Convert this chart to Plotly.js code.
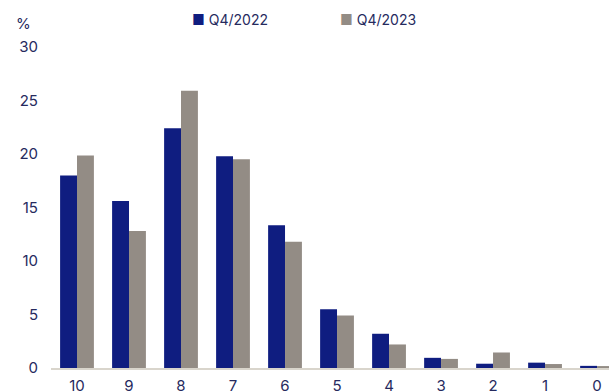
<!DOCTYPE html>
<html><head><meta charset="utf-8">
<script src="https://cdn.plot.ly/plotly-3.0.1.min.js"></script>
<style>html,body{margin:0;padding:0;background:#fff}</style>
</head><body><div id="chart" style="width:609px;height:392px"></div>
<script>
const categories = ["10","9","8","7","6","5","4","3","2","1","0"];
const q42022 = [18.0, 15.6, 22.4, 19.8, 13.35, 5.5, 3.2, 0.95, 0.4, 0.5, 0.2];
const q42023 = [19.85, 12.8, 25.9, 19.5, 11.8, 4.9, 2.2, 0.85, 1.45, 0.37, 0.18];
const yTicks = [0,5,10,15,20,25,30];
const seriesNames = ["Q4/2022","Q4/2023"];
const colors = ["#0f1d80","#938c85"];
const textColor = "#262a5e";
const fontFam = "Inter, 'Open Sans', sans-serif";
const data = [
 {type:"bar", name:seriesNames[0], x:categories, y:q42022, marker:{color:colors[0]}},
 {type:"bar", name:seriesNames[1], x:categories, y:q42023, marker:{color:colors[1]}}
];
const legendX = [190, 338];
const annotations = [{text:"%", xref:"paper", yref:"paper", x:-0.05, y:1.0, yshift:24, xanchor:"center", yanchor:"middle", showarrow:false, font:{size:15, color:textColor}}];
seriesNames.forEach((n,i)=>{
 annotations.push({text:'<span style="color:'+colors[i]+'">■</span> '+n, xref:"paper", yref:"paper",
   x:(legendX[i]-51)/558, y:1.0, yshift:28, xanchor:"left", yanchor:"middle", showarrow:false,
   font:{size:14, color:textColor}});
});
const layout = {
 width:609, height:392,
 margin:{l:51, r:0, t:47, b:24, autoexpand:false},
 paper_bgcolor:"#fff", plot_bgcolor:"#fff",
 font:{family:fontFam, size:15, color:textColor},
 barmode:"group", bargap:0.35, bargroupgap:0,
 showlegend:false,
 xaxis:{type:"category", range:[-0.5,10.23], showgrid:false, zeroline:false, automargin:false,
   showline:true, linecolor:"#d9d5cc", linewidth:2, ticks:"", ticklabelstandoff:3, tickfont:{size:15, color:textColor}, fixedrange:true},
 yaxis:{range:[0,30], tickvals:yTicks, showgrid:false, zeroline:false, showline:false, automargin:false,
   ticks:"", ticklen:0, ticklabelstandoff:12, tickfont:{size:15, color:textColor}, fixedrange:true},
 annotations:annotations
};
Plotly.newPlot("chart", data, layout, {displayModeBar:false, staticPlot:true});
</script></body></html>
